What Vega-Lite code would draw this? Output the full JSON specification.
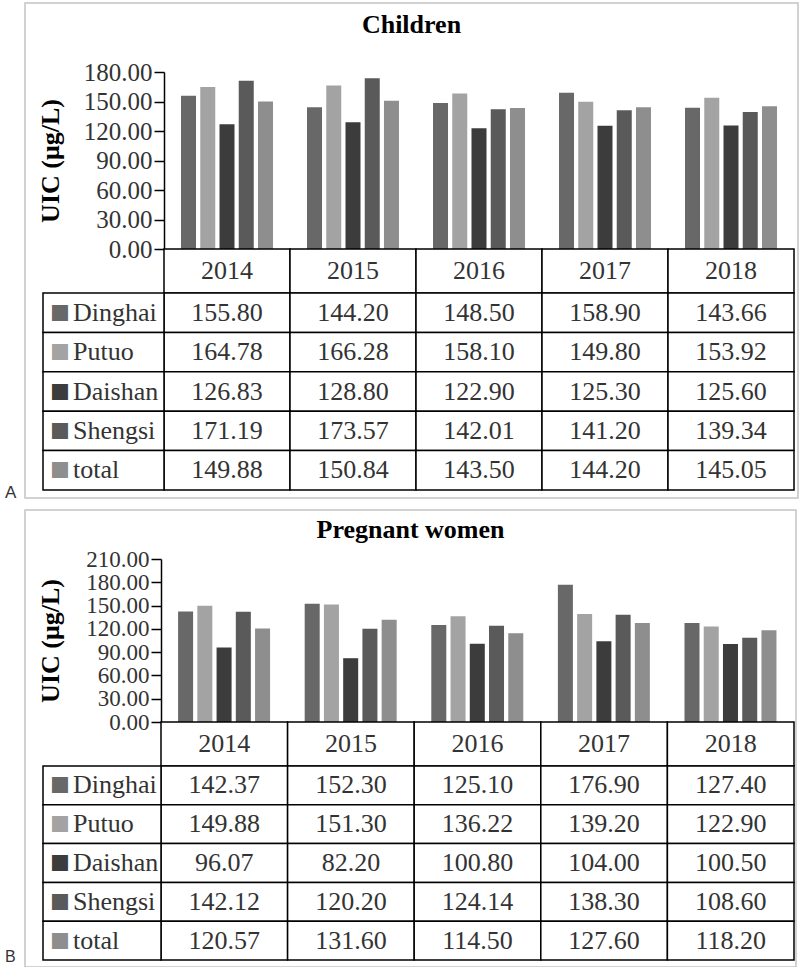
{
  "$schema": "https://vega.github.io/schema/vega-lite/v6.json",
  "background": "white",
  "padding": {"left": 4, "top": 2, "right": 0, "bottom": 0},
  "spacing": 7,
  "config": {"view": {"stroke": "#c4c4c4", "strokeWidth": 1.5}, "font": "Liberation Serif"},
  "datasets": {
    "children": [
      {"region": "Dinghai", "year": "2014", "value": 155.80},
      {"region": "Dinghai", "year": "2015", "value": 144.20},
      {"region": "Dinghai", "year": "2016", "value": 148.50},
      {"region": "Dinghai", "year": "2017", "value": 158.90},
      {"region": "Dinghai", "year": "2018", "value": 143.66},
      {"region": "Putuo", "year": "2014", "value": 164.78},
      {"region": "Putuo", "year": "2015", "value": 166.28},
      {"region": "Putuo", "year": "2016", "value": 158.10},
      {"region": "Putuo", "year": "2017", "value": 149.80},
      {"region": "Putuo", "year": "2018", "value": 153.92},
      {"region": "Daishan", "year": "2014", "value": 126.83},
      {"region": "Daishan", "year": "2015", "value": 128.80},
      {"region": "Daishan", "year": "2016", "value": 122.90},
      {"region": "Daishan", "year": "2017", "value": 125.30},
      {"region": "Daishan", "year": "2018", "value": 125.60},
      {"region": "Shengsi", "year": "2014", "value": 171.19},
      {"region": "Shengsi", "year": "2015", "value": 173.57},
      {"region": "Shengsi", "year": "2016", "value": 142.01},
      {"region": "Shengsi", "year": "2017", "value": 141.20},
      {"region": "Shengsi", "year": "2018", "value": 139.34},
      {"region": "total", "year": "2014", "value": 149.88},
      {"region": "total", "year": "2015", "value": 150.84},
      {"region": "total", "year": "2016", "value": 143.50},
      {"region": "total", "year": "2017", "value": 144.20},
      {"region": "total", "year": "2018", "value": 145.05}
    ],
    "pregnant": [
      {"region": "Dinghai", "year": "2014", "value": 142.37},
      {"region": "Dinghai", "year": "2015", "value": 152.30},
      {"region": "Dinghai", "year": "2016", "value": 125.10},
      {"region": "Dinghai", "year": "2017", "value": 176.90},
      {"region": "Dinghai", "year": "2018", "value": 127.40},
      {"region": "Putuo", "year": "2014", "value": 149.88},
      {"region": "Putuo", "year": "2015", "value": 151.30},
      {"region": "Putuo", "year": "2016", "value": 136.22},
      {"region": "Putuo", "year": "2017", "value": 139.20},
      {"region": "Putuo", "year": "2018", "value": 122.90},
      {"region": "Daishan", "year": "2014", "value": 96.07},
      {"region": "Daishan", "year": "2015", "value": 82.20},
      {"region": "Daishan", "year": "2016", "value": 100.80},
      {"region": "Daishan", "year": "2017", "value": 104.00},
      {"region": "Daishan", "year": "2018", "value": 100.50},
      {"region": "Shengsi", "year": "2014", "value": 142.12},
      {"region": "Shengsi", "year": "2015", "value": 120.20},
      {"region": "Shengsi", "year": "2016", "value": 124.14},
      {"region": "Shengsi", "year": "2017", "value": 138.30},
      {"region": "Shengsi", "year": "2018", "value": 108.60},
      {"region": "total", "year": "2014", "value": 120.57},
      {"region": "total", "year": "2015", "value": 131.60},
      {"region": "total", "year": "2016", "value": 114.50},
      {"region": "total", "year": "2017", "value": 127.60},
      {"region": "total", "year": "2018", "value": 118.20}
    ]
  },
  "vconcat": [
    {
      "width": 773,
      "height": 495,
      "data": {"name": "children"},
      "title": {"text": "Children", "offset": -56, "baseline": "alphabetic", "anchor": "middle", "frame": "group", "font": "Liberation Serif", "fontSize": 26, "fontWeight": "bold", "color": "#000"},
      "resolve": {"scale": {"x": "independent", "y": "independent"}},
      "layer": [
        {
          "mark": {"type": "bar"},
          "encoding": {
            "x": {"field": "year", "type": "nominal", "scale": {"type": "band", "range": [139, 769], "paddingInner": 0.27, "paddingOuter": 0.135}, "axis": null},
            "xOffset": {"field": "region", "type": "nominal", "sort": ["Dinghai", "Putuo", "Daishan", "Shengsi", "total"], "scale": {"paddingInner": 0.22, "paddingOuter": 0}},
            "y": {"field": "value", "type": "quantitative", "scale": {"domain": [0, 180], "range": [246, 69], "nice": false, "zero": true},
              "axis": {"values": [0, 30, 60, 90, 120, 150, 180], "format": ".2f", "title": "UIC (μg/L)", "offset": -139, "grid": false,
                "domainColor": "#000", "domainWidth": 1.5, "tickColor": "#000", "tickWidth": 1.5, "tickSize": 10,
                "labelFont": "Liberation Serif", "labelFontSize": 25, "labelColor": "#333", "labelPadding": 2, "labelOverlap": false, "labelFlush": false,
                "titleFont": "Liberation Serif", "titleFontSize": 26, "titleFontWeight": "bold", "titleColor": "#000", "titlePadding": 20}},
            "color": {"field": "region", "type": "nominal", "scale": {"domain": ["Dinghai", "Putuo", "Daishan", "Shengsi", "total"], "range": ["#686868", "#a3a3a3", "#3c3c3c", "#5a5a5a", "#8e8e8e"]}, "legend": null}
          }
        },
        {
          "transform": [{"filter": "datum.region == 'Dinghai'"}],
          "mark": {"type": "rect", "fill": "white", "stroke": "#000", "strokeWidth": 1.5},
          "encoding": {
            "x": {"field": "year", "type": "nominal", "scale": {"type": "band", "range": [139, 769], "paddingInner": 0, "paddingOuter": 0}, "axis": null},
            "y": {"datum": "h", "type": "nominal", "scale": {"type": "band", "domain": ["h"], "range": [246, 290], "paddingInner": 0, "paddingOuter": 0}, "axis": null}
          }
        },
        {
          "transform": [{"filter": "datum.region == 'Dinghai'"}],
          "mark": {"type": "text", "font": "Liberation Serif", "fontSize": 26, "color": "#333", "baseline": "middle"},
          "encoding": {
            "x": {"field": "year", "type": "nominal", "scale": {"type": "band", "range": [139, 769], "paddingInner": 0, "paddingOuter": 0}, "axis": null},
            "y": {"datum": "h", "type": "nominal", "scale": {"type": "band", "domain": ["h"], "range": [246, 290], "paddingInner": 0, "paddingOuter": 0}, "axis": null},
            "text": {"field": "year"}
          }
        },
        {
          "mark": {"type": "rect", "fill": "white", "stroke": "#000", "strokeWidth": 1.5},
          "encoding": {
            "x": {"field": "year", "type": "nominal", "scale": {"type": "band", "range": [139, 769], "paddingInner": 0, "paddingOuter": 0}, "axis": null},
            "y": {"field": "region", "type": "nominal", "scale": {"type": "band", "domain": ["Dinghai", "Putuo", "Daishan", "Shengsi", "total"], "range": [290, 487], "paddingInner": 0, "paddingOuter": 0}, "axis": null}
          }
        },
        {
          "mark": {"type": "text", "font": "Liberation Serif", "fontSize": 26, "color": "#333", "baseline": "middle"},
          "encoding": {
            "x": {"field": "year", "type": "nominal", "scale": {"type": "band", "range": [139, 769], "paddingInner": 0, "paddingOuter": 0}, "axis": null},
            "y": {"field": "region", "type": "nominal", "scale": {"type": "band", "domain": ["Dinghai", "Putuo", "Daishan", "Shengsi", "total"], "range": [290, 487], "paddingInner": 0, "paddingOuter": 0}, "axis": null},
            "text": {"field": "value", "type": "quantitative", "format": ".2f"}
          }
        },
        {
          "transform": [{"filter": "datum.year == '2014'"}],
          "mark": {"type": "rect", "fill": "white", "stroke": "#000", "strokeWidth": 1.5},
          "encoding": {
            "x": {"datum": "lab", "type": "nominal", "scale": {"type": "band", "domain": ["lab"], "range": [18, 139], "paddingInner": 0, "paddingOuter": 0}, "axis": null},
            "y": {"field": "region", "type": "nominal", "scale": {"type": "band", "domain": ["Dinghai", "Putuo", "Daishan", "Shengsi", "total"], "range": [290, 487], "paddingInner": 0, "paddingOuter": 0}, "axis": null}
          }
        },
        {
          "transform": [{"filter": "datum.year == '2014'"}],
          "mark": {"type": "text", "text": "■", "font": "Liberation Sans", "fontSize": 33, "align": "center", "baseline": "middle", "dx": 17},
          "encoding": {
            "x": {"datum": "lab", "type": "nominal", "bandPosition": 0, "scale": {"type": "band", "domain": ["lab"], "range": [18, 139], "paddingInner": 0, "paddingOuter": 0}, "axis": null},
            "y": {"field": "region", "type": "nominal", "scale": {"type": "band", "domain": ["Dinghai", "Putuo", "Daishan", "Shengsi", "total"], "range": [290, 487], "paddingInner": 0, "paddingOuter": 0}, "axis": null},
            "color": {"field": "region", "type": "nominal", "legend": null}
          }
        },
        {
          "transform": [{"filter": "datum.year == '2014'"}],
          "mark": {"type": "text", "font": "Liberation Serif", "fontSize": 26, "color": "#333", "align": "left", "baseline": "middle", "dx": 30},
          "encoding": {
            "x": {"datum": "lab", "type": "nominal", "bandPosition": 0, "scale": {"type": "band", "domain": ["lab"], "range": [18, 139], "paddingInner": 0, "paddingOuter": 0}, "axis": null},
            "y": {"field": "region", "type": "nominal", "scale": {"type": "band", "domain": ["Dinghai", "Putuo", "Daishan", "Shengsi", "total"], "range": [290, 487], "paddingInner": 0, "paddingOuter": 0}, "axis": null},
            "text": {"field": "region"}
          }
        },
        {
          "transform": [{"filter": "datum.year == '2014' && datum.region == 'total'"}],
          "mark": {"type": "text", "text": "A", "font": "Liberation Sans", "fontSize": 17, "color": "#333", "align": "left", "baseline": "alphabetic", "dx": -38, "dy": 8},
          "encoding": {
            "x": {"datum": "lab", "type": "nominal", "bandPosition": 0, "scale": {"type": "band", "domain": ["lab"], "range": [18, 139], "paddingInner": 0, "paddingOuter": 0}, "axis": null},
            "y": {"field": "region", "type": "nominal", "bandPosition": 1, "scale": {"type": "band", "domain": ["Dinghai", "Putuo", "Daishan", "Shengsi", "total"], "range": [290, 487], "paddingInner": 0, "paddingOuter": 0}, "axis": null}
          }
        }
      ]
    },
    {
      "width": 771,
      "height": 457,
      "data": {"name": "pregnant"},
      "title": {"text": "Pregnant women", "offset": -54, "baseline": "alphabetic", "anchor": "middle", "frame": "group", "font": "Liberation Serif", "fontSize": 26, "fontWeight": "bold", "color": "#000"},
      "resolve": {"scale": {"x": "independent", "y": "independent"}},
      "layer": [
        {
          "mark": {"type": "bar"},
          "encoding": {
            "x": {"field": "year", "type": "nominal", "scale": {"type": "band", "range": [136, 769], "paddingInner": 0.27, "paddingOuter": 0.135}, "axis": null},
            "xOffset": {"field": "region", "type": "nominal", "sort": ["Dinghai", "Putuo", "Daishan", "Shengsi", "total"], "scale": {"paddingInner": 0.22, "paddingOuter": 0}},
            "y": {"field": "value", "type": "quantitative", "scale": {"domain": [0, 210], "range": [212, 49], "nice": false, "zero": true},
              "axis": {"values": [0, 30, 60, 90, 120, 150, 180, 210], "format": ".2f", "title": "UIC (μg/L)", "offset": -136, "grid": false,
                "domainColor": "#000", "domainWidth": 1.5, "tickColor": "#000", "tickWidth": 1.5, "tickSize": 10,
                "labelFont": "Liberation Serif", "labelFontSize": 23, "labelColor": "#333", "labelPadding": 2, "labelOverlap": false, "labelFlush": false,
                "titleFont": "Liberation Serif", "titleFontSize": 26, "titleFontWeight": "bold", "titleColor": "#000", "titlePadding": 22}},
            "color": {"field": "region", "type": "nominal", "scale": {"domain": ["Dinghai", "Putuo", "Daishan", "Shengsi", "total"], "range": ["#686868", "#a3a3a3", "#3c3c3c", "#5a5a5a", "#8e8e8e"]}, "legend": null}
          }
        },
        {
          "transform": [{"filter": "datum.region == 'Dinghai'"}],
          "mark": {"type": "rect", "fill": "white", "stroke": "#000", "strokeWidth": 1.5},
          "encoding": {
            "x": {"field": "year", "type": "nominal", "scale": {"type": "band", "range": [136, 769], "paddingInner": 0, "paddingOuter": 0}, "axis": null},
            "y": {"datum": "h", "type": "nominal", "scale": {"type": "band", "domain": ["h"], "range": [212, 256], "paddingInner": 0, "paddingOuter": 0}, "axis": null}
          }
        },
        {
          "transform": [{"filter": "datum.region == 'Dinghai'"}],
          "mark": {"type": "text", "font": "Liberation Serif", "fontSize": 26, "color": "#333", "baseline": "middle"},
          "encoding": {
            "x": {"field": "year", "type": "nominal", "scale": {"type": "band", "range": [136, 769], "paddingInner": 0, "paddingOuter": 0}, "axis": null},
            "y": {"datum": "h", "type": "nominal", "scale": {"type": "band", "domain": ["h"], "range": [212, 256], "paddingInner": 0, "paddingOuter": 0}, "axis": null},
            "text": {"field": "year"}
          }
        },
        {
          "mark": {"type": "rect", "fill": "white", "stroke": "#000", "strokeWidth": 1.5},
          "encoding": {
            "x": {"field": "year", "type": "nominal", "scale": {"type": "band", "range": [136, 769], "paddingInner": 0, "paddingOuter": 0}, "axis": null},
            "y": {"field": "region", "type": "nominal", "scale": {"type": "band", "domain": ["Dinghai", "Putuo", "Daishan", "Shengsi", "total"], "range": [256, 450], "paddingInner": 0, "paddingOuter": 0}, "axis": null}
          }
        },
        {
          "mark": {"type": "text", "font": "Liberation Serif", "fontSize": 26, "color": "#333", "baseline": "middle"},
          "encoding": {
            "x": {"field": "year", "type": "nominal", "scale": {"type": "band", "range": [136, 769], "paddingInner": 0, "paddingOuter": 0}, "axis": null},
            "y": {"field": "region", "type": "nominal", "scale": {"type": "band", "domain": ["Dinghai", "Putuo", "Daishan", "Shengsi", "total"], "range": [256, 450], "paddingInner": 0, "paddingOuter": 0}, "axis": null},
            "text": {"field": "value", "type": "quantitative", "format": ".2f"}
          }
        },
        {
          "transform": [{"filter": "datum.year == '2014'"}],
          "mark": {"type": "rect", "fill": "white", "stroke": "#000", "strokeWidth": 1.5},
          "encoding": {
            "x": {"datum": "lab", "type": "nominal", "scale": {"type": "band", "domain": ["lab"], "range": [18, 136], "paddingInner": 0, "paddingOuter": 0}, "axis": null},
            "y": {"field": "region", "type": "nominal", "scale": {"type": "band", "domain": ["Dinghai", "Putuo", "Daishan", "Shengsi", "total"], "range": [256, 450], "paddingInner": 0, "paddingOuter": 0}, "axis": null}
          }
        },
        {
          "transform": [{"filter": "datum.year == '2014'"}],
          "mark": {"type": "text", "text": "■", "font": "Liberation Sans", "fontSize": 33, "align": "center", "baseline": "middle", "dx": 17},
          "encoding": {
            "x": {"datum": "lab", "type": "nominal", "bandPosition": 0, "scale": {"type": "band", "domain": ["lab"], "range": [18, 136], "paddingInner": 0, "paddingOuter": 0}, "axis": null},
            "y": {"field": "region", "type": "nominal", "scale": {"type": "band", "domain": ["Dinghai", "Putuo", "Daishan", "Shengsi", "total"], "range": [256, 450], "paddingInner": 0, "paddingOuter": 0}, "axis": null},
            "color": {"field": "region", "type": "nominal", "legend": null}
          }
        },
        {
          "transform": [{"filter": "datum.year == '2014'"}],
          "mark": {"type": "text", "font": "Liberation Serif", "fontSize": 26, "color": "#333", "align": "left", "baseline": "middle", "dx": 30},
          "encoding": {
            "x": {"datum": "lab", "type": "nominal", "bandPosition": 0, "scale": {"type": "band", "domain": ["lab"], "range": [18, 136], "paddingInner": 0, "paddingOuter": 0}, "axis": null},
            "y": {"field": "region", "type": "nominal", "scale": {"type": "band", "domain": ["Dinghai", "Putuo", "Daishan", "Shengsi", "total"], "range": [256, 450], "paddingInner": 0, "paddingOuter": 0}, "axis": null},
            "text": {"field": "region"}
          }
        },
        {
          "transform": [{"filter": "datum.year == '2014' && datum.region == 'total'"}],
          "mark": {"type": "text", "text": "B", "font": "Liberation Sans", "fontSize": 16, "color": "#333", "align": "left", "baseline": "alphabetic", "dx": -38, "dy": 2},
          "encoding": {
            "x": {"datum": "lab", "type": "nominal", "bandPosition": 0, "scale": {"type": "band", "domain": ["lab"], "range": [18, 136], "paddingInner": 0, "paddingOuter": 0}, "axis": null},
            "y": {"field": "region", "type": "nominal", "bandPosition": 1, "scale": {"type": "band", "domain": ["Dinghai", "Putuo", "Daishan", "Shengsi", "total"], "range": [256, 450], "paddingInner": 0, "paddingOuter": 0}, "axis": null}
          }
        }
      ]
    }
  ]
}
